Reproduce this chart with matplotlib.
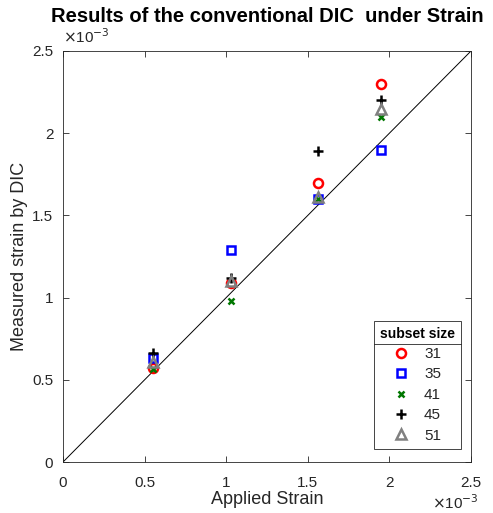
import matplotlib
matplotlib.use("Agg")
import matplotlib.pyplot as plt
from matplotlib.ticker import FuncFormatter, MultipleLocator
from matplotlib.lines import Line2D

plt.rcParams['font.family'] = ['Liberation Sans', 'DejaVu Sans']

# Data (strain in units of 1e-3)
applied = [0.55, 1.03, 1.56, 1.95]
subset_labels = ['31', '35', '41', '45', '51']
meas_31 = [0.57, 1.09, 1.70, 2.30]
meas_35 = [0.63, 1.29, 1.60, 1.90]
meas_41 = [0.565, 0.98, 1.60, 2.10]
meas_45 = [0.66, 1.12, 1.89, 2.20]
meas_51 = [0.61, 1.10, 1.61, 2.15]
scale = 1e-3

series = [meas_31, meas_35, meas_41, meas_45, meas_51]
styles = [
    dict(marker='o', mfc='none', mec='#ff0000', mew=1.8, ms=6.5),
    dict(marker='s', mfc='none', mec='#0000ff', mew=1.8, ms=5.5),
    dict(marker='x', mfc='none', mec='#007700', mew=1.8, ms=4.5),
    dict(marker='+', mfc='none', mec='#000000', mew=1.8, ms=6.5),
    dict(marker='^', mfc='none', mec='#808080', mew=1.8, ms=6.5),
]

fig = plt.figure(figsize=(4.93, 5.13), dpi=100)
ax = fig.add_axes([0.1278, 0.0994, 0.8276, 0.8012])

ax.plot([0, 2.5 * scale], [0, 2.5 * scale], color='black', lw=0.7, zorder=1)

handles = []
for vals, st, lab in zip(series, styles, subset_labels):
    h, = ax.plot([a * scale for a in applied], [v * scale for v in vals],
                 ls='none', label=lab, zorder=3, **st)
    handles.append(h)

ax.set_xlim(0, 2.5 * scale)
ax.set_ylim(0, 2.5 * scale)
ax.xaxis.set_major_locator(MultipleLocator(0.5 * scale))
ax.yaxis.set_major_locator(MultipleLocator(0.5 * scale))
fmt = FuncFormatter(lambda v, p: ('%g' % round(v / scale, 3)))
ax.xaxis.set_major_formatter(fmt)
ax.yaxis.set_major_formatter(fmt)

axcol = '#262626'
for s in ax.spines.values():
    s.set_color(axcol)
    s.set_linewidth(0.6)
ax.tick_params(direction='in', length=4, width=0.6, colors=axcol,
               labelsize=11, top=True, right=True)
ax.tick_params(axis='x', pad=10)
ax.tick_params(axis='y', pad=7)

ax.set_xlabel('Applied Strain', fontsize=13, color=axcol, labelpad=1)
ax.set_ylabel('Measured strain by DIC', fontsize=13, color=axcol, labelpad=3)
ax.set_title('Results of the conventional DIC  under Strain',
             fontsize=14.5, fontweight='bold', pad=21)

ax.text(0.0, 1.012, r'$\times$10$^{-3}$', transform=ax.transAxes,
        ha='left', va='bottom', fontsize=11, color=axcol)
ax.text(1.018, -0.077, r'$\times$10$^{-3}$', transform=ax.transAxes,
        ha='right', va='top', fontsize=11, color=axcol)

leg = ax.legend(handles=handles, title='subset size', loc='lower right',
                bbox_to_anchor=(0.975, 0.032), frameon=True, fancybox=False,
                fontsize=11, title_fontsize=10, handlelength=1.0,
                handletextpad=1.0, labelspacing=0.42, borderpad=0.4,
                borderaxespad=0.0,
                edgecolor='#262626', framealpha=1)
leg.get_title().set_fontweight('bold')
leg.get_frame().set_linewidth(0.6)
for t in leg.get_texts():
    t.set_color(axcol)

fig.canvas.draw()
tb = leg.get_title().get_window_extent()
fb = leg.get_frame().get_window_extent()
ysep = tb.y0 - 3
inv = fig.transFigure.inverted()
(x0, y0) = inv.transform((fb.x0, ysep))
(x1, _) = inv.transform((fb.x1, ysep))
fig.add_artist(Line2D([x0, x1], [y0, y0], color='#262626', lw=0.6,
                      transform=fig.transFigure, zorder=10))

fig.savefig('out.png', dpi=100)
